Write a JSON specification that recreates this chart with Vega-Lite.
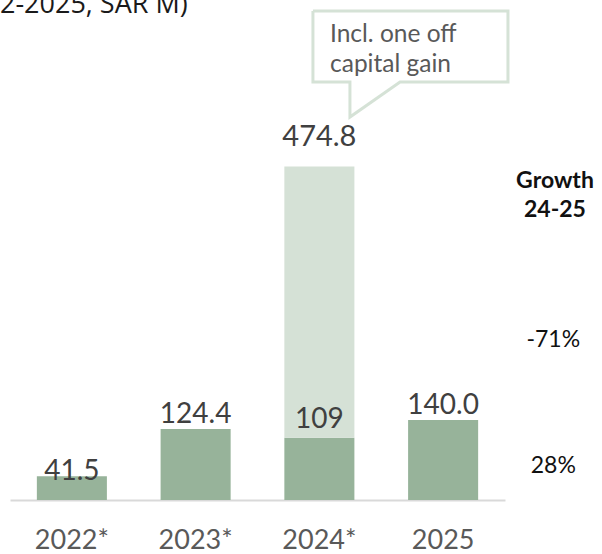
{
  "$schema": "https://vega.github.io/schema/vega-lite/v6.json",
  "width": 495,
  "height": 500,
  "autosize": {"type": "none"},
  "padding": {"left": 10, "top": 0, "right": 97, "bottom": 54},
  "background": "white",
  "config": {"view": {"stroke": null}},
  "datasets": {
    "bars": [
      {"year": "2022*", "part": "base", "seg": 1, "value": 41.5, "label": "41.5", "grp": "in"},
      {"year": "2023*", "part": "base", "seg": 1, "value": 124.4, "label": "124.4", "grp": "std"},
      {"year": "2024*", "part": "base", "seg": 1, "value": 109, "label": "109", "grp": "mid"},
      {"year": "2024*", "part": "oneoff", "seg": 2, "value": 474.8, "label": "474.8", "grp": "top"},
      {"year": "2025", "part": "base", "seg": 1, "value": 140.0, "label": "140.0", "grp": "std"}
    ],
    "notes": [
      {"kind": "box", "ord": 1, "ix": 2.448, "yv": 855.75},
      {"kind": "box", "ord": 2, "ix": 4.024, "yv": 855.75},
      {"kind": "box", "ord": 3, "ix": 4.024, "yv": 731.5},
      {"kind": "box", "ord": 4, "ix": 3.152, "yv": 731.5},
      {"kind": "box", "ord": 5, "ix": 2.747, "yv": 670.25},
      {"kind": "box", "ord": 6, "ix": 2.747, "yv": 731.5},
      {"kind": "box", "ord": 7, "ix": 2.448, "yv": 731.5},
      {"kind": "box", "ord": 8, "ix": 2.448, "yv": 855.75},
      {"kind": "callout", "ix": 2.586, "yv": 801.5, "text": "Incl. one off"},
      {"kind": "callout", "ix": 2.586, "yv": 749, "text": "capital gain"},
      {"kind": "head", "ix": 4.404, "yv": 546, "text": "Growth"},
      {"kind": "head", "ix": 4.404, "yv": 495.25, "text": "24-25"},
      {"kind": "growth", "ix": 4.39, "yv": 267.75, "text": "-71%"},
      {"kind": "growth", "ix": 4.39, "yv": 47.25, "text": "28%"},
      {"kind": "title", "ix": -0.081, "yv": 852.25, "text": "2-2025, SAR M)"}
    ]
  },
  "layer": [
    {
      "data": {"name": "bars"},
      "transform": [
        {"stack": "value", "groupby": ["year"], "sort": [{"field": "seg", "order": "ascending"}], "as": ["v0", "v1"]}
      ],
      "encoding": {
        "x": {
          "field": "year", "type": "nominal", "sort": ["2022*", "2023*", "2024*", "2025"],
          "scale": {"paddingInner": 0.434, "paddingOuter": 0.217},
          "axis": {
            "title": null, "labelAngle": 0, "domainColor": "#d9d9d9", "domainWidth": 2,
            "ticks": false, "tickSize": 0, "labelPadding": 27, "labelFont": "Lato",
            "labelFontSize": 27, "labelColor": "#595959", "grid": false
          }
        },
        "y": {"field": "v1", "type": "quantitative", "scale": {"domain": [0, 875], "nice": false}, "axis": null}
      },
      "layer": [
        {
          "mark": {"type": "bar"},
          "encoding": {
            "y2": {"field": "v0"},
            "color": {"field": "part", "type": "nominal", "scale": {"domain": ["base", "oneoff"], "range": ["#97b39a", "#d5e1d6"]}, "legend": null}
          }
        },
        {
          "transform": [{"filter": "datum.grp === 'std'"}],
          "mark": {"type": "text", "font": "Lato", "fontSize": 28, "color": "#404040", "baseline": "alphabetic", "dy": -6},
          "encoding": {"text": {"field": "label"}}
        },
        {
          "transform": [{"filter": "datum.grp === 'mid'"}],
          "mark": {"type": "text", "font": "Lato", "fontSize": 28, "color": "#404040", "baseline": "alphabetic", "dy": -10},
          "encoding": {"text": {"field": "label"}}
        },
        {
          "transform": [{"filter": "datum.grp === 'in'"}],
          "mark": {"type": "text", "font": "Lato", "fontSize": 28, "color": "#404040", "baseline": "alphabetic", "dy": 4},
          "encoding": {"text": {"field": "label"}}
        },
        {
          "transform": [{"filter": "datum.grp === 'top'"}],
          "mark": {"type": "text", "font": "Lato", "fontSize": 29, "color": "#404040", "baseline": "alphabetic", "dy": -20},
          "encoding": {"text": {"field": "label"}}
        }
      ]
    },
    {
      "data": {"name": "notes"},
      "encoding": {
        "x": {"field": "ix", "type": "quantitative", "scale": {"domain": [0, 4], "nice": false, "zero": false}, "axis": null},
        "y": {"field": "yv", "type": "quantitative", "scale": {"domain": [0, 875], "nice": false}, "axis": null}
      },
      "layer": [
        {
          "transform": [{"filter": "datum.kind === 'box'"}],
          "mark": {"type": "line", "stroke": "#d5e2d6", "strokeWidth": 3, "strokeJoin": "miter"},
          "encoding": {"order": {"field": "ord", "type": "quantitative"}}
        },
        {
          "transform": [{"filter": "datum.kind === 'callout'"}],
          "mark": {"type": "text", "font": "Lato", "fontSize": 24.5, "color": "#595959", "align": "left", "baseline": "alphabetic"},
          "encoding": {"text": {"field": "text"}}
        },
        {
          "transform": [{"filter": "datum.kind === 'head'"}],
          "mark": {"type": "text", "font": "Lato", "fontSize": 23, "fontWeight": "bold", "color": "#111111", "align": "center", "baseline": "alphabetic"},
          "encoding": {"text": {"field": "text"}}
        },
        {
          "transform": [{"filter": "datum.kind === 'growth'"}],
          "mark": {"type": "text", "font": "Lato", "fontSize": 23, "color": "#111111", "align": "center", "baseline": "alphabetic"},
          "encoding": {"text": {"field": "text"}}
        },
        {
          "transform": [{"filter": "datum.kind === 'title'"}],
          "mark": {"type": "text", "font": "Open Sans", "fontSize": 27, "color": "#1a1a1a", "align": "left", "baseline": "alphabetic"},
          "encoding": {"text": {"field": "text"}}
        }
      ]
    }
  ],
  "resolve": {"scale": {"x": "independent"}}
}
